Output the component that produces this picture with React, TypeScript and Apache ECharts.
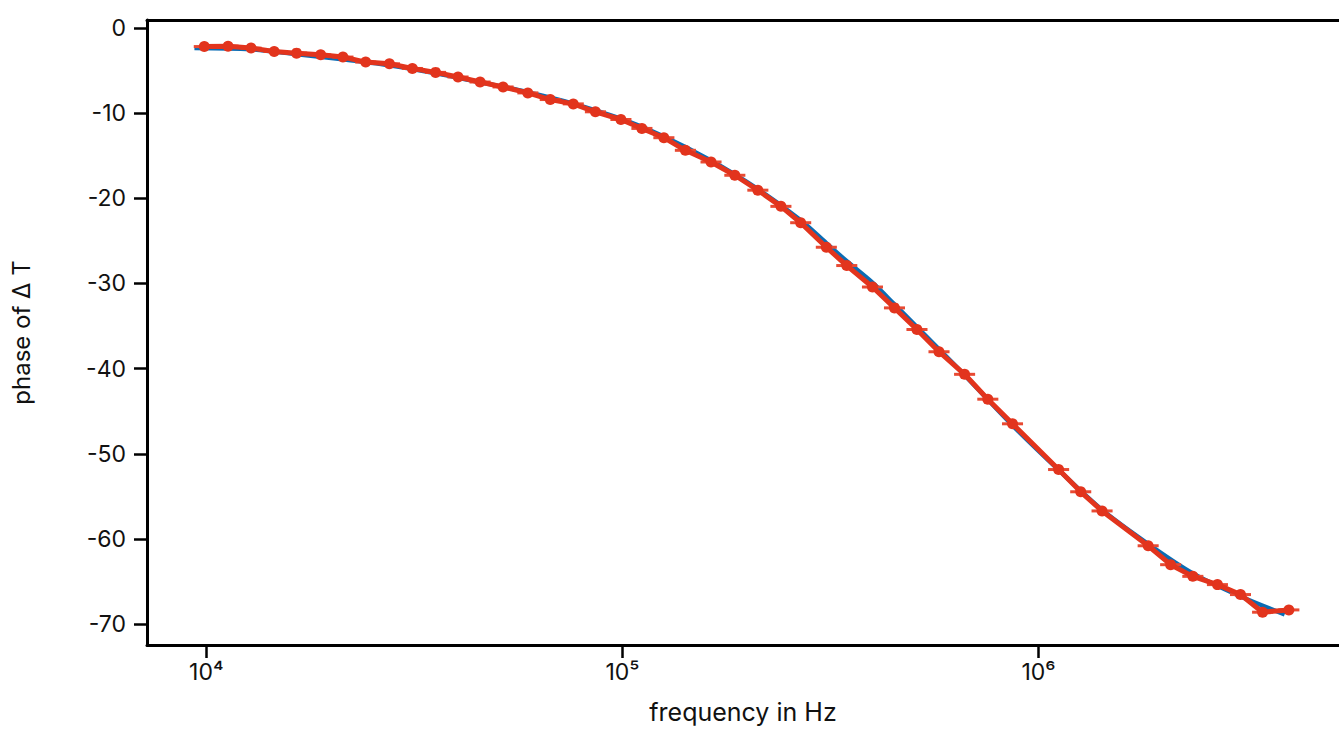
import { useEffect, useRef } from "react";
import * as echarts from "echarts";

// measured data (red): frequency in Hz, phase in degrees
const freqMeasured = [
  9890, 11280, 12810, 14560, 16480, 18830, 21300, 24160, 27550, 31280,
  35570, 40270, 45500, 51670, 59260, 67080, 76200, 86130, 99180, 111400,
  125800, 141700, 163300, 186300, 211600, 240400, 268200, 309100, 346100, 399000,
  450700, 510400, 576600, 664300, 755400, 866000, 1117600, 1263100, 1421400, 1834500,
  2077500, 2348900, 2691500, 3057700, 3455400, 3996200,
];
const phaseMeasured = [
  -2.19, -2.14, -2.37, -2.77, -2.96, -3.16, -3.42, -4.01, -4.21, -4.76,
  -5.22, -5.76, -6.35, -6.93, -7.63, -8.41, -8.92, -9.85, -10.75, -11.8,
  -12.89, -14.37, -15.74, -17.3, -19.05, -20.95, -22.87, -25.75, -27.9, -30.42,
  -32.87, -35.41, -38.02, -40.67, -43.59, -46.48, -51.85, -54.46, -56.71, -60.8,
  -63.02, -64.39, -65.36, -66.53, -68.6, -68.33,
];
const xErrFactor = 1.06;

// fit (blue)
const freqFit = [
  9365, 12790, 16540, 21270, 27510, 35570, 45500, 59160, 76080, 99460,
  125800, 162700, 211600, 267700, 308600, 346100, 399000, 450000, 510400, 663700,
  862700, 1115800, 1419100, 1834500, 2348900, 3052400, 3903700,
];
const phaseFit = [
  -2.37, -2.51, -3.1, -3.68, -4.38, -5.32, -6.37, -7.54, -8.88, -10.69,
  -12.74, -15.54, -18.93, -22.55, -25.24, -27.4, -29.92, -32.43, -35.12, -40.73,
  -46.57, -51.86, -56.56, -60.59, -64.04, -66.73, -68.87,
];

const xTicks = [1e4, 1e5, 1e6];
const yTicks = [0, -10, -20, -30, -40, -50, -60, -70];
const xTitle = "frequency in Hz";
const yTitle = "phase of \u0394 T";

const SUP: Record<string, string> = {
  "0": "\u2070", "1": "\u00b9", "2": "\u00b2", "3": "\u00b3", "4": "\u2074",
  "5": "\u2075", "6": "\u2076", "7": "\u2077", "8": "\u2078", "9": "\u2079",
};

const RED = "#e2341d";
const BLUE = "#0b6cb4";
const FONT = "Inter";

export default function App() {
  const ref = useRef<HTMLDivElement>(null);
  useEffect(() => {
    if (!ref.current) return;
    const chart = echarts.init(ref.current, undefined, { renderer: "svg" });
    const measured = freqMeasured.map((f, i) => [f, phaseMeasured[i]]);
    const fit = freqFit.map((f, i) => [f, phaseFit[i]]);
    chart.setOption({
      animation: false,
      backgroundColor: "#ffffff",
      grid: { left: 147, top: 20, right: -14, bottom: 81, show: false },
      xAxis: [
        {
          type: "log",
          logBase: 10,
          min: 7203,
          max: 5274000,
          position: "bottom",
          name: xTitle,
          nameLocation: "middle",
          nameGap: 54,
          nameTextStyle: { fontFamily: FONT, fontSize: 25, color: "#111" },
          axisLine: { show: true, onZero: false, lineStyle: { color: "#000", width: 3 } },
          axisTick: { show: true, length: 13, lineStyle: { color: "#000", width: 2.5 }, customValues: xTicks },
          axisLabel: {
            customValues: xTicks,
            margin: 15,
            fontFamily: FONT,
            fontSize: 23,
            color: "#111",
            formatter: (v: number) => {
              const e = String(Math.round(Math.log10(v)));
              return "10" + e.split("").map((c) => SUP[c] || c).join("");
            },
          },
          splitLine: { show: false },
          minorTick: { show: false },
          minorSplitLine: { show: false },
        },
        {
          type: "log",
          logBase: 10,
          min: 7203,
          max: 5274000,
          position: "top",
          axisLine: { show: true, onZero: false, lineStyle: { color: "#000", width: 3 } },
          axisTick: { show: false },
          axisLabel: { show: false },
          splitLine: { show: false },
        },
      ],
      yAxis: {
        type: "value",
        min: -72.45,
        max: 0.93,
        name: yTitle,
        nameLocation: "middle",
        nameGap: 114,
        nameRotate: 90,
        nameTextStyle: { fontFamily: FONT, fontSize: 24, color: "#111" },
        axisLine: { show: true, onZero: false, lineStyle: { color: "#000", width: 3 } },
        axisTick: { show: true, length: 13, lineStyle: { color: "#000", width: 2.5 }, customValues: yTicks },
        axisLabel: { customValues: yTicks, margin: 21, fontFamily: FONT, fontSize: 23, color: "#111" },
        splitLine: { show: false },
      },
      series: [
        {
          type: "line",
          name: "fit",
          data: fit,
          smooth: 0.3,
          showSymbol: false,
          symbol: "none",
          lineStyle: { color: BLUE, width: 4.5 },
          z: 2,
        },
        {
          type: "custom",
          name: "xerr",
          data: measured,
          z: 3,
          renderItem: (params: any, api: any) => {
            const x = api.value(0);
            const y = api.value(1);
            const p1 = api.coord([x / xErrFactor, y]);
            const p2 = api.coord([x * xErrFactor, y]);
            return {
              type: "line",
              shape: { x1: p1[0], y1: p1[1], x2: p2[0], y2: p2[1] },
              style: { stroke: "#e84a33", lineWidth: 3 },
            };
          },
        },
        {
          type: "line",
          name: "measured",
          data: measured,
          smooth: false,
          symbol: "circle",
          symbolSize: 11,
          itemStyle: { color: RED },
          lineStyle: { color: RED, width: 5 },
          z: 4,
        },
      ],
    });
    return () => chart.dispose();
  }, []);
  return (
    <div
      ref={ref}
      style={{ position: "fixed", left: 0, top: 0, width: 1339, height: 729, background: "#fff" }}
    />
  );
}
